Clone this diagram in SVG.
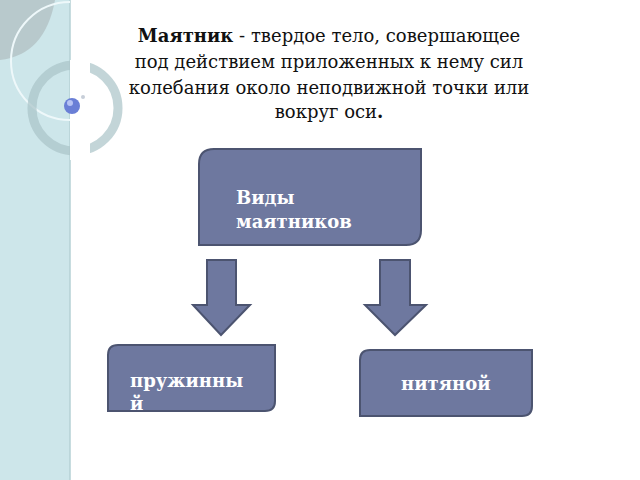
<svg xmlns="http://www.w3.org/2000/svg" width="640" height="480" viewBox="0 0 640 480">
<style>
.n{fill:#6e789f;stroke:#4c5470;stroke-width:2}
.t{font-family:"DejaVu Serif",serif;font-size:18px;fill:#111;text-anchor:middle}
.w{font-family:"DejaVu Serif",serif;font-size:18px;font-weight:bold;fill:#fff}
</style>
<rect width="640" height="480" fill="#fff"/>
<g id="decor">
<rect x="0" y="0" width="70" height="480" fill="#cde6ea"/>
<line x1="70" y1="0" x2="70" y2="480" stroke="#b5d0d5" stroke-width="1.5"/>
<path d="M0 0H55Q45 55 0 60Z" fill="#b8c9cc"/>
<path d="M70 2A58 58 0 0 0 70 120" fill="none" stroke="#eef8fa" stroke-width="2"/>
<circle cx="75" cy="108" r="43" fill="none" stroke="#aac3c8" stroke-width="9" opacity="0.7"/>
<rect x="70" y="60" width="20" height="100" fill="#fff"/>
<circle cx="72" cy="106" r="8" fill="#6a7fd6"/>
<circle cx="70" cy="103" r="3" fill="#b7c3f4"/>
<circle cx="83" cy="97" r="2" fill="#c7ced8"/>
</g>
<g id="title">
<text class="t" x="329" y="42"><tspan font-weight="bold">Маятник</tspan> - твердое тело, совершающее</text>
<text class="t" x="329" y="68">под действием приложенных к нему сил</text>
<text class="t" x="329" y="94">колебания около неподвижной точки  или</text>
<text class="t" x="329" y="118">вокруг оси<tspan font-weight="bold">.</tspan></text>
</g>
<g id="connectors">
<path class="n" d="M207 260H236V305H250L221 335L193 305H207Z"/>
<path class="n" d="M380 260H410V305H426L395 335L365 305H380Z"/>
</g>
<g id="root">
<path class="n" d="M214 149H421V230Q421 245 406 245H199V164Q199 149 214 149Z"/>
<text class="w" x="236" y="204">Виды</text>
<text class="w" x="236" y="228">маятников</text>
</g>
<g id="spring">
<path class="n" d="M118 345H275V401Q275 411 265 411H108V355Q108 345 118 345Z"/>
<text class="w" x="130" y="387">пружинны</text>
<text class="w" x="130" y="410">й</text>
</g>
<g id="thread">
<path class="n" d="M370 350H532V406Q532 416 522 416H360V360Q360 350 370 350Z"/>
<text class="w" x="401" y="390">нитяной</text>
</g>
</svg>
